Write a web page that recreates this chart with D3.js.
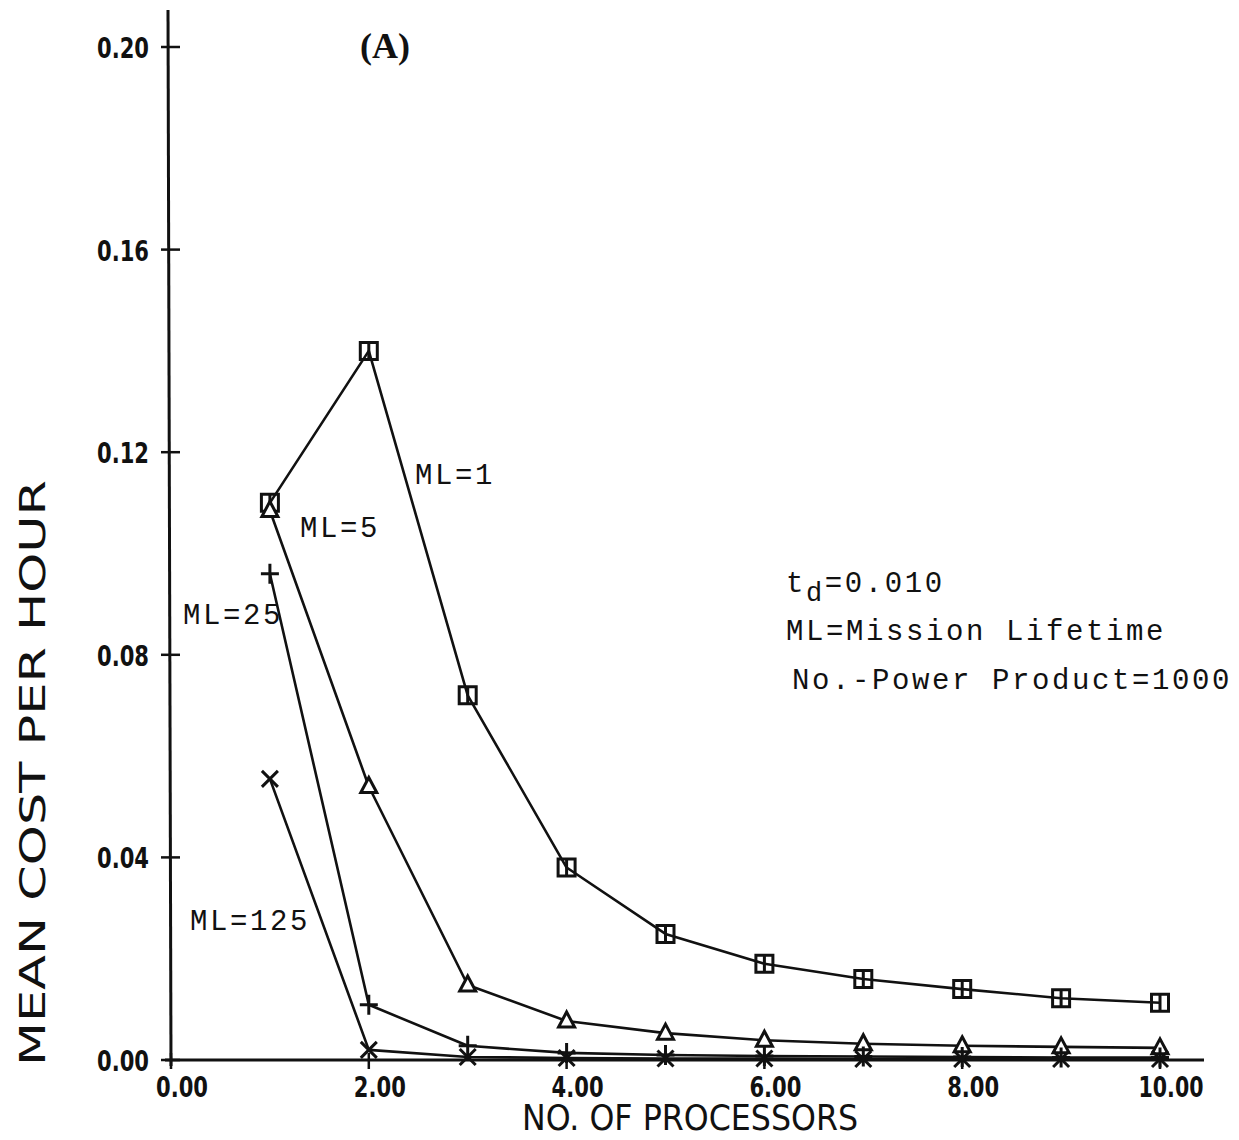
<!DOCTYPE html>
<html>
<head>
<meta charset="utf-8">
<script src="https://cdn.jsdelivr.net/npm/d3@7"></script>
<style>
  body { margin: 0; background: #fff; }
  svg { display: block; }
  .tick-label { font-family: "DejaVu Sans", "Liberation Sans", sans-serif; font-weight: bold; font-size: 28px; fill: #111; }
  .axis-title { font-family: "DejaVu Sans", "Liberation Sans", sans-serif; font-size: 36px; fill: #111; }
  .note { font-family: "Liberation Mono", "DejaVu Sans Mono", monospace; font-size: 29px; fill: #111; letter-spacing: 2.6px; }
</style>
</head>
<body>
<div id="chart"></div>
<script>
// processors on the x axis
const processors = [1, 2, 3, 4, 5, 6, 7, 8, 9, 10];

// mean cost per hour for each mission lifetime
const ml1 = [0.110, 0.140, 0.072, 0.038, 0.0249, 0.0190, 0.0160, 0.0140, 0.0122, 0.0113];
const ml5 = [0.1085, 0.054, 0.0148, 0.0077, 0.0053, 0.0039, 0.0032, 0.0028, 0.0026, 0.0024];
const ml25 = [0.096, 0.0109, 0.0028, 0.0014, 0.0010, 0.0008, 0.0007, 0.0006, 0.0005, 0.0005];
const ml125 = [0.0555, 0.0020, 0.0006, 0.0004, 0.0003, 0.0003, 0.0002, 0.0002, 0.0002, 0.0002];

const xTicks = [0, 2, 4, 6, 8, 10];
const yTicks = [0, 0.04, 0.08, 0.12, 0.16, 0.20];

const series = [
  { name: "ML=1", values: ml1, marker: "square", label: [415, 484] },
  { name: "ML=5", values: ml5, marker: "triangle", label: [300, 537] },
  { name: "ML=25", values: ml25, marker: "plus", label: [183, 624] },
  { name: "ML=125", values: ml125, marker: "cross", label: [190, 930] }
];

const width = 1239, height = 1140;

const x = d3.scaleLinear().domain([0, 10]).range([171, 1160]);
const y = d3.scaleLinear().domain([0, 0.20]).range([1060, 47]);

const svg = d3.select("#chart").append("svg")
  .attr("width", width)
  .attr("height", height);

// axes lines
svg.append("line")
  .attr("x1", x(0) - 3).attr("x2", x(0))
  .attr("y1", 10).attr("y2", y(0) + 6)
  .attr("stroke", "#111").attr("stroke-width", 3);

svg.append("line")
  .attr("x1", x(0) - 6).attr("x2", 1204)
  .attr("y1", y(0)).attr("y2", y(0))
  .attr("stroke", "#111").attr("stroke-width", 3);

const fmt = d3.format(".2f");

// y ticks, crossing the axis
const yt = svg.append("g").selectAll("g").data(yTicks).join("g");
yt.append("line")
  .attr("x1", x(0) - 10).attr("x2", x(0) + 9)
  .attr("y1", d => y(d)).attr("y2", d => y(d))
  .attr("stroke", "#111").attr("stroke-width", 2.5);
yt.append("text")
  .attr("class", "tick-label")
  .attr("x", x(0) - 74)
  .attr("y", d => y(d) + 11)
  .attr("textLength", d => fmt(d).length * 13)
  .attr("lengthAdjust", "spacingAndGlyphs")
  .text(d => fmt(d));

// x ticks
const xt = svg.append("g").selectAll("g").data(xTicks).join("g");
xt.append("line")
  .attr("x1", d => x(d)).attr("x2", d => x(d))
  .attr("y1", y(0) - 7).attr("y2", y(0) + 9)
  .attr("stroke", "#111").attr("stroke-width", 2.5);
xt.append("text")
  .attr("class", "tick-label")
  .attr("x", d => x(d) + 11 - fmt(d).length * 6.5)
  .attr("y", y(0) + 37)
  .attr("textLength", d => fmt(d).length * 13)
  .attr("lengthAdjust", "spacingAndGlyphs")
  .text(d => fmt(d));

// axis titles
svg.append("text")
  .attr("class", "axis-title")
  .attr("x", 522).attr("y", 1130)
  .attr("textLength", 336)
  .attr("lengthAdjust", "spacingAndGlyphs")
  .text("NO. OF PROCESSORS");

svg.append("text")
  .attr("class", "axis-title")
  .attr("font-size", 40)
  .attr("transform", "translate(45,1066) rotate(-90)")
  .attr("textLength", 586)
  .attr("lengthAdjust", "spacingAndGlyphs")
  .text("MEAN COST PER HOUR");

// lines
const line = d3.line()
  .x((d, i) => x(processors[i]))
  .y(d => y(d));

svg.append("g").selectAll("path").data(series).join("path")
  .attr("d", s => line(s.values))
  .attr("fill", "none")
  .attr("stroke", "#111")
  .attr("stroke-width", 2.6)
  .attr("stroke-linejoin", "round");

// markers
const markerPath = {
  square: "M-8.5,-8.5H8.5V8.5H-8.5Z M0,-8.5V8.5",
  triangle: "M0,-9L8,6H-8Z",
  plus: "M-9,0H9 M0,-10V10",
  cross: "M-8,-8L8,8 M8,-8L-8,8"
};

series.forEach(s => {
  svg.append("g").selectAll("path").data(s.values).join("path")
    .attr("transform", (d, i) => `translate(${x(processors[i])},${y(d)})`)
    .attr("d", markerPath[s.marker])
    .attr("fill", s.marker === "triangle" ? "#fff" : "none")
    .attr("stroke", "#111")
    .attr("stroke-width", 3);
});

// series labels
svg.append("g").selectAll("text").data(series).join("text")
  .attr("class", "note")
  .attr("x", s => s.label[0])
  .attr("y", s => s.label[1])
  .text(s => s.name);

// panel tag
svg.append("text")
  .attr("x", 385).attr("y", 58)
  .attr("text-anchor", "middle")
  .attr("font-family", "Liberation Serif, DejaVu Serif, serif")
  .attr("font-size", 36)
  .attr("font-weight", "bold")
  .attr("fill", "#111")
  .text("(A)");

// parameter notes
const td = svg.append("text").attr("class", "note").attr("x", 786).attr("y", 592);
td.append("tspan").text("t");
td.append("tspan").attr("dy", 9).attr("font-size", 27).text("d");
td.append("tspan").attr("dy", -9).text("=0.010");

svg.append("text").attr("class", "note").attr("x", 786).attr("y", 640).text("ML=Mission Lifetime");
svg.append("text").attr("class", "note").attr("x", 792).attr("y", 689).text("No.-Power Product=1000");
</script>
</body>
</html>
